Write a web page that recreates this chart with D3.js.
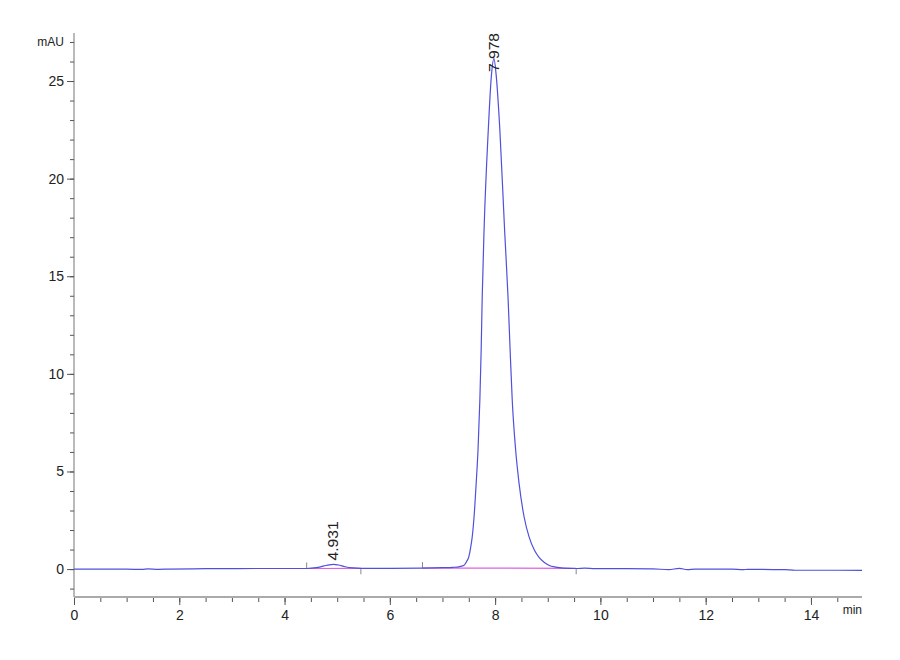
<!DOCTYPE html>
<html>
<head>
<meta charset="utf-8">
<script src="https://cdn.jsdelivr.net/npm/d3@7"></script>
<style>
  html, body { margin: 0; padding: 0; background: #fff; }
  svg { display: block; font-family: "Liberation Sans", Arial, sans-serif; }
</style>
</head>
<body>
<svg id="chart" width="900" height="660"></svg>
<script>
// ---- data ----
const traceTime = [0.0, 0.5, 1.0, 1.3, 1.4, 1.6, 1.8, 2.5, 3.5, 4.0, 4.42, 4.6, 4.75, 4.85, 4.931, 5.02, 5.15, 5.3, 5.45,
  6.0, 6.6, 7.0, 7.2, 7.33, 7.41, 7.46, 7.50, 7.535, 7.565, 7.60, 7.64, 7.675, 7.71, 7.735, 7.755, 7.79, 7.87, 7.93, 7.978,
  8.02, 8.09, 8.18, 8.245, 8.285, 8.325, 8.39, 8.455, 8.55, 8.645, 8.75, 8.835, 8.93, 9.02, 9.15, 9.3, 9.54, 9.7, 9.9,
  10.5, 11.0, 11.3, 11.5, 11.65, 11.8, 12.5, 12.7, 12.8, 13.5, 13.7, 14.5, 14.97];
const traceValue = [0.00, 0.00, 0.00, -0.02, 0.01, -0.01, 0.00, 0.02, 0.03, 0.03, 0.03, 0.07, 0.16, 0.22, 0.24, 0.21, 0.12, 0.06, 0.04,
  0.04, 0.05, 0.07, 0.09, 0.13, 0.20, 0.40, 0.63, 1.10, 1.65, 2.68, 4.39, 6.10, 8.66, 11.22, 13.95, 17.37, 22.49, 25.30, 26.15,
  25.30, 22.49, 17.37, 13.95, 11.22, 8.66, 6.10, 4.39, 2.68, 1.65, 0.95, 0.60, 0.35, 0.20, 0.10, 0.05, 0.03, 0.05, 0.02,
  0.02, 0.01, -0.03, 0.04, -0.03, 0.00, 0.00, -0.03, -0.01, -0.03, -0.06, -0.06, -0.07];

const peakTimes = [4.931, 7.978];
const peakHeights = [0.24, 26.15];
const peakLabels = ["4.931", "7.978"];

// integration baselines: start/end time and level
const baseStart = [4.42, 6.62];
const baseEnd = [5.45, 9.54];
const baseStartValue = [0.03, 0.05];
const baseEndValue = [0.04, 0.04];

const xMajorTicks = [0, 2, 4, 6, 8, 10, 12, 14];
const xMinorTicks = d3.range(0, 15, 0.5);
const yMajorTicks = [0, 5, 10, 15, 20, 25];
const yMinorTicks = d3.range(-1, 28, 1);

// ---- layout ----
const svg = d3.select("#chart");
const x = d3.scaleLinear().domain([0, 15]).range([74, 74 + 15 * 52.64]);
const y = d3.scaleLinear().domain([-1.43, 27.46]).range([597, 33]);
const axisColor = "#8c8c8c";

// Y axis
const gy = svg.append("g").attr("transform", `translate(${x(0)},0)`);
gy.append("line").attr("x1", 0).attr("x2", 0).attr("y1", y.range()[1]).attr("y2", y.range()[0])
  .attr("stroke", axisColor).attr("stroke-width", 1.2);
const yMinor = svg.append("g").attr("transform", `translate(${x(0)},0)`)
  .call(d3.axisLeft(y).tickValues(yMinorTicks).tickSize(4).tickFormat(""));
const yMajor = svg.append("g").attr("transform", `translate(${x(0)},0)`)
  .call(d3.axisLeft(y).tickValues(yMajorTicks).tickSize(7).tickPadding(3).tickFormat(d3.format("d")));
[yMinor, yMajor].forEach(g => {
  g.select(".domain").remove();
  g.selectAll(".tick line").attr("stroke", "#555");
  g.selectAll(".tick text").attr("fill", "#222").attr("font-size", 14)
    .attr("font-family", '"Liberation Sans", Arial, sans-serif');
});
svg.append("text").attr("x", x(0) - 10).attr("y", y(27)).attr("dy", "0.35em")
  .attr("text-anchor", "end").attr("font-size", 12).attr("fill", "#222").text("mAU");

// X axis
const gxMinor = svg.append("g").attr("transform", `translate(0,${y(-1.43)})`)
  .call(d3.axisBottom(x).tickValues(xMinorTicks).tickSize(5).tickFormat(""));
const gxMajor = svg.append("g").attr("transform", `translate(0,${y(-1.43)})`)
  .call(d3.axisBottom(x).tickValues(xMajorTicks).tickSize(8).tickPadding(5).tickFormat(d3.format("d")));
[gxMinor, gxMajor].forEach(g => {
  g.select(".domain").remove();
  g.selectAll(".tick line").attr("stroke", "#555");
  g.selectAll(".tick text").attr("fill", "#222").attr("font-size", 14)
    .attr("font-family", '"Liberation Sans", Arial, sans-serif');
});
svg.append("line").attr("x1", x(0)).attr("x2", x(14.97)).attr("y1", y(-1.43)).attr("y2", y(-1.43))
  .attr("stroke", "#aaaaaa").attr("stroke-width", 2.2);
svg.append("text").attr("x", x(14.97)).attr("y", y(-1.43) + 17).attr("text-anchor", "end")
  .attr("font-size", 12).attr("fill", "#222").text("min");

// integration baselines
const baseData = baseStart.map((s, i) => ({s, e: baseEnd[i], sv: baseStartValue[i], ev: baseEndValue[i]}));
svg.append("g").selectAll("line").data(baseData).join("line")
  .attr("x1", d => x(d.s)).attr("x2", d => x(d.e))
  .attr("y1", d => y(d.sv)).attr("y2", d => y(d.ev))
  .attr("stroke", "#e060e0").attr("stroke-width", 1.2);

// peak boundary markers (start: up, end: down)
const marks = [];
baseData.forEach(d => { marks.push({t: d.s, v: d.sv, dir: -1}); marks.push({t: d.e, v: d.ev, dir: 1}); });
svg.append("g").selectAll("line").data(marks).join("line")
  .attr("x1", d => x(d.t)).attr("x2", d => x(d.t))
  .attr("y1", d => y(d.v)).attr("y2", d => y(d.v) + d.dir * 6)
  .attr("stroke", "#888").attr("stroke-width", 1);

// trace
const trace = traceTime.map((t, i) => [t, traceValue[i]]);
svg.append("path").datum(trace)
  .attr("fill", "none").attr("stroke", "#5050dc").attr("stroke-width", 1.2)
  .attr("d", d3.line().x(d => x(d[0])).y(d => y(d[1])).curve(d3.curveMonotoneX));

// peak labels (rotated, clamped to the plot top)
const labelLen = 39;
peakTimes.forEach((t, i) => {
  const px = x(t);
  const start = Math.max(y(peakHeights[i]) - 4, y.range()[1] + labelLen);
  svg.append("text")
    .attr("transform", `translate(${px},${start}) rotate(-90)`)
    .attr("dy", "0.35em").attr("text-anchor", "start")
    .attr("font-size", 14).attr("textLength", labelLen).attr("lengthAdjust", "spacingAndGlyphs")
    .attr("fill", "#222").text(peakLabels[i]);
});
</script>
</body>
</html>
